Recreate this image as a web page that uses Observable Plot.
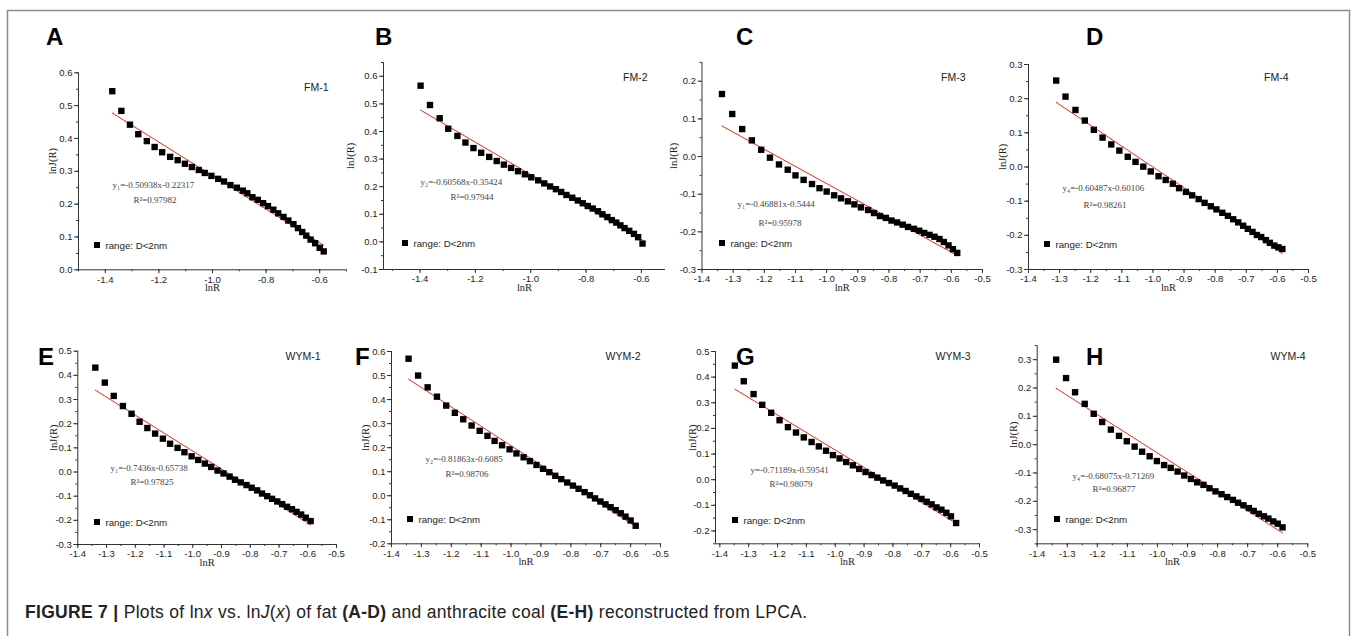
<!DOCTYPE html>
<html><head><meta charset="utf-8">
<script src="https://cdn.jsdelivr.net/npm/d3@7"></script>
<script src="https://cdn.jsdelivr.net/npm/@observablehq/plot@0.6"></script>
<style>
html,body{margin:0;padding:0;background:#fff;}
#page{position:relative;width:1356px;height:636px;overflow:hidden;background:#fff;}
#overlay{position:absolute;left:0;top:0;}
.panel{position:absolute;overflow:visible;}
</style></head>
<body><div id="page"></div>
<script>
// ---------- data ----------
const letters = ["A","B","C","D","E","F","G","H"];
const names = ["FM-1","FM-2","FM-3","FM-4","WYM-1","WYM-2","WYM-3","WYM-4"];
const equations = ["y\u2081=-0.50938x-0.22317","y\u2082=-0.60568x-0.35424","y\u2081=-0.46881x-0.5444","y\u2084=-0.60487x-0.60106",
                   "y\u2081=-0.7436x-0.65738","y\u2082=-0.81863x-0.6085","y=-0.71189x-0.59541","y\u2084=-0.68075x-0.71269"];
const r2Texts = ["R\u00b2=0.97982","R\u00b2=0.97944","R\u00b2=0.95978","R\u00b2=0.98261","R\u00b2=0.97825","R\u00b2=0.98706","R\u00b2=0.98079","R\u00b2=0.96877"];
const legendLabel = "range: D<2nm";
const xAxisLabel = "lnR";
const yAxisLabel = "lnJ(R)";

const xA = [-1.374,-1.340,-1.308,-1.277,-1.245,-1.216,-1.188,-1.158,-1.130,-1.103,-1.077,-1.051,-1.029,-1.004,-0.979,-0.957,-0.933,-0.909,-0.887,-0.870,-0.851,-0.831,-0.811,-0.793,-0.773,-0.755,-0.735,-0.717,-0.698,-0.681,-0.665,-0.650,-0.634,-0.617,-0.600,-0.585];
const yA = [0.544,0.484,0.442,0.413,0.392,0.374,0.358,0.344,0.334,0.323,0.313,0.304,0.295,0.286,0.277,0.269,0.258,0.250,0.241,0.233,0.221,0.213,0.203,0.194,0.183,0.172,0.161,0.150,0.139,0.127,0.115,0.104,0.092,0.081,0.067,0.056];

const xB = [-1.398,-1.364,-1.329,-1.298,-1.265,-1.236,-1.207,-1.179,-1.150,-1.123,-1.097,-1.071,-1.046,-1.021,-0.998,-0.973,-0.951,-0.930,-0.909,-0.890,-0.871,-0.850,-0.830,-0.812,-0.794,-0.776,-0.757,-0.741,-0.723,-0.707,-0.691,-0.676,-0.661,-0.644,-0.627,-0.612,-0.596];
const yB = [0.566,0.496,0.448,0.410,0.384,0.360,0.340,0.323,0.308,0.293,0.280,0.268,0.256,0.245,0.234,0.223,0.212,0.201,0.191,0.181,0.170,0.160,0.150,0.140,0.130,0.121,0.111,0.100,0.090,0.079,0.070,0.060,0.050,0.040,0.029,0.017,-0.006];

const xC = [-1.336,-1.303,-1.271,-1.240,-1.210,-1.182,-1.153,-1.125,-1.100,-1.074,-1.047,-1.023,-1.000,-0.976,-0.954,-0.932,-0.911,-0.890,-0.867,-0.848,-0.829,-0.810,-0.792,-0.774,-0.756,-0.739,-0.720,-0.703,-0.687,-0.670,-0.654,-0.638,-0.624,-0.609,-0.595,-0.581];
const yC = [0.166,0.113,0.073,0.043,0.018,-0.003,-0.021,-0.035,-0.050,-0.062,-0.073,-0.084,-0.093,-0.103,-0.111,-0.119,-0.127,-0.135,-0.142,-0.150,-0.158,-0.163,-0.170,-0.175,-0.181,-0.187,-0.192,-0.197,-0.203,-0.208,-0.213,-0.219,-0.227,-0.236,-0.246,-0.256];

const xD = [-1.311,-1.281,-1.249,-1.219,-1.190,-1.162,-1.134,-1.108,-1.081,-1.056,-1.031,-1.007,-0.982,-0.959,-0.936,-0.916,-0.894,-0.874,-0.853,-0.834,-0.814,-0.796,-0.777,-0.759,-0.742,-0.726,-0.710,-0.695,-0.680,-0.666,-0.652,-0.637,-0.624,-0.610,-0.597,-0.584];
const yD = [0.253,0.206,0.167,0.136,0.109,0.086,0.066,0.048,0.030,0.015,0.001,-0.013,-0.027,-0.038,-0.049,-0.062,-0.073,-0.083,-0.094,-0.105,-0.115,-0.124,-0.134,-0.143,-0.153,-0.162,-0.172,-0.181,-0.190,-0.199,-0.205,-0.214,-0.222,-0.230,-0.235,-0.240];

const xE = [-1.339,-1.306,-1.275,-1.243,-1.213,-1.185,-1.158,-1.131,-1.104,-1.079,-1.053,-1.029,-1.004,-0.981,-0.958,-0.936,-0.914,-0.893,-0.872,-0.853,-0.833,-0.813,-0.795,-0.776,-0.759,-0.741,-0.724,-0.706,-0.689,-0.672,-0.655,-0.639,-0.623,-0.607,-0.590];
const yE = [0.432,0.370,0.315,0.273,0.241,0.208,0.182,0.159,0.138,0.117,0.100,0.082,0.065,0.050,0.035,0.021,0.006,-0.006,-0.019,-0.032,-0.043,-0.054,-0.065,-0.076,-0.089,-0.100,-0.111,-0.122,-0.133,-0.144,-0.154,-0.165,-0.176,-0.189,-0.203];

const xF = [-1.343,-1.311,-1.279,-1.248,-1.217,-1.188,-1.160,-1.132,-1.105,-1.079,-1.055,-1.030,-1.005,-0.982,-0.958,-0.937,-0.915,-0.893,-0.872,-0.852,-0.832,-0.812,-0.793,-0.774,-0.754,-0.736,-0.719,-0.701,-0.684,-0.667,-0.650,-0.633,-0.617,-0.600,-0.583];
const yF = [0.570,0.500,0.451,0.412,0.375,0.345,0.318,0.292,0.270,0.249,0.228,0.210,0.193,0.176,0.160,0.144,0.128,0.112,0.098,0.083,0.069,0.055,0.042,0.029,0.015,0.002,-0.011,-0.024,-0.036,-0.048,-0.060,-0.073,-0.087,-0.103,-0.125];

const xG = [-1.348,-1.317,-1.283,-1.253,-1.222,-1.193,-1.164,-1.136,-1.109,-1.082,-1.057,-1.032,-1.008,-0.985,-0.962,-0.939,-0.917,-0.895,-0.874,-0.854,-0.834,-0.814,-0.794,-0.775,-0.756,-0.738,-0.719,-0.701,-0.683,-0.666,-0.649,-0.632,-0.615,-0.599,-0.581];
const yG = [0.445,0.384,0.334,0.292,0.261,0.232,0.205,0.184,0.165,0.147,0.130,0.113,0.096,0.083,0.069,0.056,0.042,0.030,0.018,0.008,-0.003,-0.013,-0.023,-0.034,-0.044,-0.055,-0.065,-0.075,-0.086,-0.096,-0.108,-0.117,-0.129,-0.143,-0.169];

const xH = [-1.337,-1.304,-1.274,-1.242,-1.212,-1.184,-1.155,-1.128,-1.102,-1.076,-1.051,-1.026,-1.002,-0.978,-0.956,-0.933,-0.911,-0.889,-0.868,-0.847,-0.827,-0.807,-0.787,-0.768,-0.749,-0.732,-0.714,-0.696,-0.680,-0.663,-0.646,-0.631,-0.615,-0.600,-0.584];
const yH = [0.300,0.235,0.185,0.144,0.109,0.080,0.053,0.031,0.012,-0.007,-0.025,-0.041,-0.058,-0.072,-0.082,-0.095,-0.109,-0.121,-0.133,-0.142,-0.154,-0.165,-0.175,-0.185,-0.195,-0.205,-0.214,-0.224,-0.234,-0.244,-0.253,-0.261,-0.271,-0.279,-0.292];

const xTicksEven  = [-1.4,-1.2,-1.0,-0.8,-0.6];
const xTicksTenth = [-1.4,-1.3,-1.2,-1.1,-1.0,-0.9,-0.8,-0.7,-0.6,-0.5];
const yTicksA = [0.0,0.1,0.2,0.3,0.4,0.5,0.6];
const yTicksB = [-0.1,0.0,0.1,0.2,0.3,0.4,0.5,0.6];
const yTicksC = [-0.3,-0.2,-0.1,0.0,0.1,0.2];
const yTicksD = [-0.3,-0.2,-0.1,0.0,0.1,0.2,0.3];
const yTicksE = [-0.3,-0.2,-0.1,0.0,0.1,0.2,0.3,0.4,0.5];
const yTicksF = [-0.2,-0.1,0.0,0.1,0.2,0.3,0.4,0.5,0.6];
const yTicksG = [-0.2,-0.1,0.0,0.1,0.2,0.3,0.4,0.5];
const yTicksH = [-0.3,-0.2,-0.1,0.0,0.1,0.2,0.3];

const seriesX = [xA,xB,xC,xD,xE,xF,xG,xH];
const seriesY = [yA,yB,yC,yD,yE,yF,yG,yH];
const xTickSets = [xTicksEven,xTicksEven,xTicksTenth,xTicksTenth,xTicksTenth,xTicksTenth,xTicksTenth,xTicksTenth];
const yTickSets = [yTicksA,yTicksB,yTicksC,yTicksD,yTicksE,yTicksF,yTicksG,yTicksH];

// ---------- layout (pixel geometry of each panel) ----------
const layout = [
 {xDomain:[-1.5,-0.5],   yDomain:[0,0.6],     px:[78,346],      py:[269.3,72.3], xMinor:0.1,  fm:[328,87],  eq:[112,185], r2:[133,200], leg:[97,245],  yl:52,   letter:[46,45]},
 {xDomain:[-1.532,-0.513],yDomain:[-0.1,0.65],px:[383,665],     py:[269,62],     xMinor:0.1,  fm:[647,77],  eq:[420,182], r2:[450,197], leg:[405,243], yl:350,  letter:[375,45]},
 {xDomain:[-1.4,-0.5],   yDomain:[-0.3,0.25], px:[701.5,982],   py:[269,61.9],   xMinor:0.05, fm:[965,77],  eq:[737,204], r2:[758,223], leg:[722,243], yl:673,  letter:[736,45]},
 {xDomain:[-1.4,-0.5],   yDomain:[-0.3,0.3],  px:[1028,1308],   py:[269,64],     xMinor:0.05, fm:[1288,77], eq:[1062,188],r2:[1083,205],leg:[1047,244],yl:1002, letter:[1086,45]},
 {xDomain:[-1.4,-0.5],   yDomain:[-0.3,0.5],  px:[77.3,336],    py:[544,350.7],  xMinor:0.05, fm:[320,356], eq:[110,468], r2:[130,482], leg:[97,522],  yl:53,   letter:[38,365]},
 {xDomain:[-1.4,-0.5],   yDomain:[-0.2,0.6],  px:[391,660],     py:[543.3,351],  xMinor:0.05, fm:[640,356], eq:[425,459], r2:[445,474], leg:[410,519], yl:365,  letter:[355,365]},
 {xDomain:[-1.415,-0.5], yDomain:[-0.25,0.5], px:[715,979],     py:[543.3,351],  xMinor:0.05, fm:[970,356], eq:[750,470], r2:[769,484], leg:[735,520], yl:692,  letter:[736,365]},
 {xDomain:[-1.4,-0.5],   yDomain:[-0.35,0.35],px:[1036.7,1307.3],py:[543.3,345], xMinor:0.05, fm:[1305,356],eq:[1072,476],r2:[1092,489],leg:[1057,519],yl:1013, letter:[1086,365]},
];

const page = document.getElementById("page");
const fmt = d => (Math.abs(d) < 1e-9 ? 0 : d).toFixed(1);
const minor = (dom, step) => {
  const a = Math.ceil(dom[0]/step - 1e-6), b = Math.floor(dom[1]/step + 1e-6);
  return d3.range(a, b + 1).map(k => +(k*step).toFixed(4));
};
const SANS = "'Liberation Sans', Arial, Helvetica, sans-serif";
const SERIF = "'Liberation Serif', 'Times New Roman', serif";

layout.forEach((p, i) => {
  const L = Math.floor(p.px[0] - 66), R = Math.ceil(p.px[1] + 16);
  const T = Math.floor(p.py[1] - 20), B = Math.ceil(p.py[0] + 34);
  const data = seriesX[i].map((x, j) => ({x, y: seriesY[i][j]}));
  const fx = p.px[0], fy = p.py[1];
  const ann = (txt, pos, extra) => Plot.text([txt], Object.assign({
    text: d => d, frameAnchor: "top-left", dx: pos[0] - fx, dy: pos[1] - fy,
    textAnchor: "start", lineAnchor: "middle"
  }, extra));
  const chart = Plot.plot({
    width: R - L, height: B - T,
    marginLeft: p.px[0] - L, marginRight: R - p.px[1],
    marginTop: p.py[1] - T, marginBottom: B - p.py[0],
    x: {domain: p.xDomain},
    y: {domain: p.yDomain},
    style: {background: "transparent", overflow: "visible", fontFamily: SANS, fontSize: "9.5px", color: "#222"},
    marks: [
      Plot.axisX(minor(p.xDomain, p.xMinor), {anchor: "bottom", tickSize: 2, tickFormat: () => "", label: null, stroke: "#333"}),
      Plot.axisX(xTickSets[i], {anchor: "bottom", tickSize: 4, tickPadding: 2, tickFormat: fmt, label: null, stroke: "#333", fill: "#222"}),
      Plot.axisY(minor(p.yDomain, 0.05), {anchor: "left", tickSize: 2, tickFormat: () => "", label: null, stroke: "#333"}),
      Plot.axisY(yTickSets[i], {anchor: "left", tickSize: 4, tickPadding: 2, tickFormat: fmt, label: null, stroke: "#333", fill: "#222"}),
      Plot.ruleY([p.yDomain[0]], {stroke: "#333", strokeWidth: 1}),
      Plot.ruleX([p.xDomain[0]], {stroke: "#333", strokeWidth: 1}),
      Plot.linearRegressionY(data, {x: "x", y: "y", stroke: "#ee2a1e", strokeWidth: 1, ci: 0}),
      Plot.dot(data, {x: "x", y: "y", symbol: "square", r: 3.6, fill: "#000", stroke: null}),
      Plot.text([xAxisLabel], {text: d => d, frameAnchor: "bottom", dy: 21.5, fontFamily: SERIF, fontSize: 10.5, fill: "#222"}),
      Plot.text([yAxisLabel], {text: d => d, frameAnchor: "left", rotate: -90, dx: p.yl - fx, dy: 3, fontFamily: SERIF, fontSize: 10.5, fill: "#222"}),
      ann(names[i], p.fm, {textAnchor: "end", fontFamily: SANS, fontSize: 10.5, fill: "#222"}),
      ann(equations[i], p.eq, {fontFamily: SERIF, fontSize: 9, fill: "#444"}),
      ann(r2Texts[i], p.r2, {fontFamily: SERIF, fontSize: 9, fill: "#444"}),
      ann(legendLabel, [p.leg[0] + 8, p.leg[1]], {fontFamily: SANS, fontSize: 9.7, fill: "#222"})
    ]
  });
  d3.select(chart).append("rect")
    .attr("x", p.leg[0] - L - 3).attr("y", p.leg[1] - T - 3)
    .attr("width", 6).attr("height", 6).attr("fill", "#000");
  chart.classList.add("panel");
  chart.style.left = L + "px";
  chart.style.top = T + "px";
  page.appendChild(chart);
});

// ---------- overlay: frame, panel letters, caption ----------
const ov = d3.select(page).append("svg").attr("id", "overlay")
  .attr("width", 1356).attr("height", 636);
ov.append("rect").attr("x", 7.5).attr("y", 10.5).attr("width", 1342).attr("height", 700)
  .attr("fill", "none").attr("stroke", "#8c8c8c").attr("stroke-width", 1.5);
layout.forEach((p, i) => {
  ov.append("text").attr("x", p.letter[0]).attr("y", p.letter[1])
    .attr("font-family", SANS).attr("font-weight", "bold").attr("font-size", 24)
    .attr("fill", "#000").text(letters[i]);
});
const cap = ov.append("text").attr("x", 25).attr("y", 618)
  .attr("font-family", "'Liberation Sans Narrow', 'Arial Narrow', " + SANS)
  .attr("font-size", 17.5).attr("fill", "#222")
  .attr("textLength", 782).attr("lengthAdjust", "spacing");
const parts = [
  ["FIGURE 7 | ", "bold", "normal"], ["Plots of ln", "normal", "normal"], ["x", "normal", "italic"],
  [" vs. ln", "normal", "normal"], ["J", "normal", "italic"], ["(", "normal", "normal"], ["x", "normal", "italic"],
  [") of fat ", "normal", "normal"], ["(A-D)", "bold", "normal"], [" and anthracite coal ", "normal", "normal"],
  ["(E-H)", "bold", "normal"], [" reconstructed from LPCA.", "normal", "normal"]
];
parts.forEach(([t, w, s]) => cap.append("tspan").attr("font-weight", w).attr("font-style", s).text(t));
</script>
</body></html>
